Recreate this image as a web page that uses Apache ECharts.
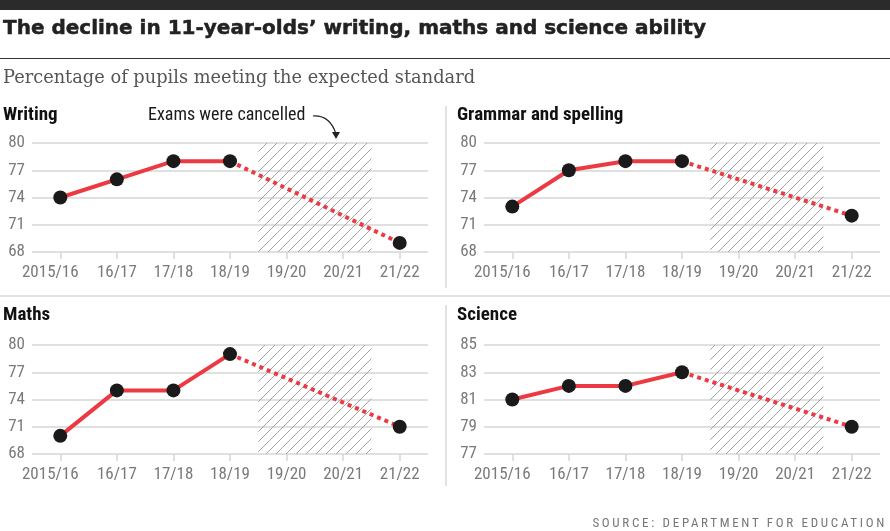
<!DOCTYPE html>
<html>
<head>
<meta charset="utf-8">
<script src="https://cdn.jsdelivr.net/npm/echarts@6/dist/echarts.min.js"></script>
<style>
  html, body { margin: 0; padding: 0; background: #fff; }
  #wrap { position: relative; width: 890px; height: 531px; }
  #chart { width: 890px; height: 531px; }
  #source {
    position: absolute; right: 3px; top: 515px;
    font: 13px 'Liberation Sans Narrow', 'Roboto Condensed', Roboto, sans-serif;
    letter-spacing: 2.7px; color: #777; white-space: nowrap;
  }
</style>
</head>
<body>
<div id="wrap">
  <div id="chart"></div>
  <div id="source">SOURCE: DEPARTMENT FOR EDUCATION</div>
</div>
<script>
(function () {
  'use strict';

  // ── data ───────────────────────────────────────────────────
  const CATEGORIES = ['2015/16', '16/17', '17/18', '18/19', '19/20', '20/21', '21/22'];
  const CANCELLED = ['19/20', '20/21'];           // exams were cancelled
  const WRITING = [74, 76, 78, 78, null, null, 69];
  const GRAMMAR = [73, 77, 78, 78, null, null, 72];
  const MATHS   = [70, 75, 75, 79, null, null, 71];
  const SCIENCE = [81, 82, 82, 83, null, null, 79];
  const TICKS_68_80 = [68, 80, 3];                // min, max, interval
  const TICKS_77_85 = [77, 85, 2];

  const TITLE = 'The decline in 11-year-olds\u2019 writing, maths and science ability';
  const SUBTITLE = 'Percentage of pupils meeting the expected standard';
  const NOTE = 'Exams were cancelled';

  // ── styles ─────────────────────────────────────────────────
  const RED = '#ec3a43';
  const DOT = '#1a1a1a';
  const GREY = '#7a7a7a';
  const COND = "'Liberation Sans Narrow', 'Roboto Condensed', Roboto, sans-serif";

  const PANELS = [
    { name: 'Writing',              values: WRITING, ticks: TICKS_68_80, left: 32,  top: 143, tx: 3,   ty: 115 },
    { name: 'Grammar and spelling', values: GRAMMAR, ticks: TICKS_68_80, left: 484, top: 143, tx: 457, ty: 115 },
    { name: 'Maths',                values: MATHS,   ticks: TICKS_68_80, left: 32,  top: 345, tx: 3,   ty: 315 },
    { name: 'Science',              values: SCIENCE, ticks: TICKS_77_85, left: 484, top: 345, tx: 457, ty: 315 },
  ];
  const GW = 396, GH = 109;

  // diagonal hatch tile
  function hatch() {
    const c = document.createElement('canvas');
    c.width = 10; c.height = 10;
    const x = c.getContext('2d');
    x.strokeStyle = '#9a9a9a'; x.lineWidth = 0.9;
    x.beginPath();
    x.moveTo(0, 10); x.lineTo(10, 0);
    x.moveTo(-1, 1); x.lineTo(1, -1);
    x.moveTo(9, 11); x.lineTo(11, 9);
    x.stroke();
    return c;
  }
  const HATCH = hatch();

  const grid = [], xAxis = [], yAxis = [], series = [];
  const graphic = [
    { type: 'rect', shape: { x: 0, y: 0, width: 890, height: 10 }, style: { fill: '#2b2b2b' } },
    { type: 'text', style: { text: TITLE, x: 3, y: 29, verticalAlign: 'middle', fill: '#222', stroke: '#222', lineWidth: 0.5, font: "bold 20px 'DejaVu Sans', sans-serif" } },
    { type: 'rect', shape: { x: 0, y: 58, width: 890, height: 1 }, style: { fill: '#333' } },
    { type: 'text', style: { text: SUBTITLE, x: 3, y: 78, verticalAlign: 'middle', fill: '#555', font: "17.8px 'DejaVu Serif', serif" } },
    { type: 'rect', shape: { x: 0, y: 295, width: 890, height: 2 }, style: { fill: '#e2e2e2' } },
    { type: 'rect', shape: { x: 445, y: 106, width: 2, height: 182 }, style: { fill: '#e2e2e2' } },
    { type: 'rect', shape: { x: 445, y: 305, width: 2, height: 181 }, style: { fill: '#e2e2e2' } },
    { type: 'text', style: { text: NOTE, x: 148, y: 115, verticalAlign: 'middle', fill: '#1a1a1a', font: '18px ' + COND } },
    { type: 'bezierCurve', shape: { x1: 313, y1: 116, x2: 336, y2: 134, cpx1: 330, cpy1: 115 }, style: { stroke: '#222', lineWidth: 1.2, fill: null } },
    { type: 'polygon', shape: { points: [[332, 132], [340, 132], [336, 139]] }, style: { fill: '#222' } },
  ];

  PANELS.forEach((p, i) => {
    const [min, max, step] = p.ticks;
    grid.push({ left: p.left, top: p.top, width: GW, height: GH });
    xAxis.push({
      gridIndex: i, type: 'category', data: CATEGORIES, boundaryGap: true,
      axisLine: { show: false },
      axisTick: { show: true, alignWithLabel: true, length: 7, lineStyle: { color: '#d6d6d6', width: 1.5 } },
      axisLabel: {
        color: GREY, fontFamily: COND, fontSize: 17, margin: 12, interval: 0,
        // first label sits so its "15/16" part lines up with the tick
        formatter: (v, k) => (k === 0 ? '{first|' + v + '}' : v),
        rich: { first: { color: GREY, fontFamily: COND, fontSize: 17, padding: [0, 20, 0, 0] } },
      },
    });
    yAxis.push({
      gridIndex: i, type: 'value', min, max, interval: step,
      axisLine: { show: false }, axisTick: { show: false },
      axisLabel: { color: GREY, fontFamily: COND, fontSize: 17, margin: 7 },
      splitLine: { lineStyle: { color: '#e0e0e0', width: 2 } },
    });
    graphic.push({ type: 'text', style: { text: p.name, x: p.tx, y: p.ty, verticalAlign: 'middle', fill: '#111', font: 'bold 19px ' + COND } });

    // measured years before the gap → solid; last before gap to first after → dotted
    const gapIdx = CATEGORIES.map((c, k) => CANCELLED.includes(c) ? k : -1).filter(k => k >= 0);
    const first = gapIdx[0], last = gapIdx[gapIdx.length - 1];
    const solid = p.values.map((v, k) => (k < first ? v : null));
    const dotted = p.values.map((v, k) => (k === first - 1 || k === last + 1 ? v : null));

    series.push({
      type: 'bar', xAxisIndex: i, yAxisIndex: i, silent: true, z: 1,
      barCategoryGap: '0%', clip: true,
      data: CATEGORIES.map(c => (CANCELLED.includes(c) ? max : null)),
      itemStyle: { color: { image: HATCH, repeat: 'repeat' } },
    });
    series.push({
      type: 'line', xAxisIndex: i, yAxisIndex: i, data: solid, showSymbol: false, z: 3,
      lineStyle: { color: RED, width: 4 },
    });
    series.push({
      type: 'line', xAxisIndex: i, yAxisIndex: i, data: dotted, connectNulls: true, showSymbol: false, z: 3,
      lineStyle: { color: RED, width: 4, type: [4, 4], cap: 'butt' },
    });
    series.push({
      type: 'scatter', xAxisIndex: i, yAxisIndex: i, data: p.values, z: 5,
      symbol: 'circle', symbolSize: 14, itemStyle: { color: DOT, opacity: 1 },
    });
  });

  const chart = echarts.init(document.getElementById('chart'), null, { renderer: 'canvas' });
  chart.setOption({
    animation: false,
    backgroundColor: '#fff',
    grid, xAxis, yAxis, series, graphic,
  });
})();
</script>
</body>
</html>
